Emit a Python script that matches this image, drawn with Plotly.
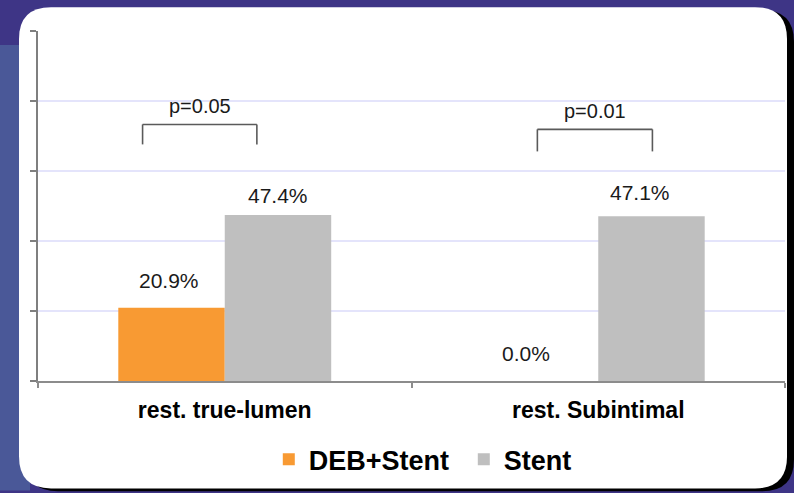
import plotly.graph_objects as go

# ---- data ----
categories = ["rest. true-lumen", "rest. Subintimal"]
series_names = ["DEB+Stent", "Stent"]
deb_stent = [20.9, 0.0]
stent = [47.4, 47.1]
p_values = ["p=0.05", "p=0.01"]

# ---- styling ----
ORANGE = "#f89a33"
GREY = "#bfbfbf"
FONT = "Liberation Sans, Arial, sans-serif"
W, H = 794, 493
ML, MR, MT, MB = 38, 9, 31, 110
PW, PH = W - ML - MR, H - MT - MB
BARGAP = 0.43
# per-label nudges (px) for the value labels: [DEB+Stent, Stent] per category
LABEL_DX = [[-3, 0], [-19, -11]]
LABEL_DY = [[14, 6], [14, 10]]


def X(px):
    """figure pixel x -> paper x"""
    return (px - ML) / PW


def Y(py):
    """figure pixel y -> paper y"""
    return (H - MB - py) / PH


def rounded_rect(x0, y0, x1, y1, r):
    pts = [
        f"M {X(x0 + r)},{Y(y0)}",
        f"L {X(x1 - r)},{Y(y0)}",
        f"Q {X(x1)},{Y(y0)} {X(x1)},{Y(y0 + r)}",
        f"L {X(x1)},{Y(y1 - r)}",
        f"Q {X(x1)},{Y(y1)} {X(x1 - r)},{Y(y1)}",
        f"L {X(x0 + r)},{Y(y1)}",
        f"Q {X(x0)},{Y(y1)} {X(x0)},{Y(y1 - r)}",
        f"L {X(x0)},{Y(y0 + r)}",
        f"Q {X(x0)},{Y(y0)} {X(x0 + r)},{Y(y0)}",
        "Z",
    ]
    return " ".join(pts)


fig = go.Figure()
fig.add_bar(name=series_names[0], x=categories, y=deb_stent,
            marker=dict(color=ORANGE, line=dict(width=0)))
fig.add_bar(name=series_names[1], x=categories, y=stent,
            marker=dict(color=GREY, line=dict(width=0)))

shapes = []
# slide background tone on the left edge
shapes.append(dict(type="rect", xref="paper", yref="paper",
                   x0=X(0), x1=X(30), y0=Y(493), y1=Y(45),
                   fillcolor="#4a5898", line=dict(width=0), layer="below"))
# panel drop shadow and white panel
shapes.append(dict(type="path", xref="paper", yref="paper",
                   path=rounded_rect(26, 10, 794, 494, 32),
                   fillcolor="black", line=dict(width=0), layer="below"))
shapes.append(dict(type="path", xref="paper", yref="paper",
                   path=rounded_rect(19, 7, 787, 491, 32),
                   fillcolor="white", line=dict(width=0), layer="below"))

# significance brackets (category units, value units)
brackets = [
    dict(x0=-0.22, x1=0.086, top=73.3, bottom=67.6),
    dict(x0=0.837, x1=1.145, top=71.9, bottom=65.6),
]
annotations = []
for b, label in zip(brackets, p_values):
    line = dict(color="#5a5a5a", width=1.6)
    shapes.append(dict(type="line", xref="x", yref="y", x0=b["x0"], x1=b["x1"],
                       y0=b["top"], y1=b["top"], line=line))
    shapes.append(dict(type="line", xref="x", yref="y", x0=b["x0"], x1=b["x0"],
                       y0=b["top"], y1=b["bottom"], line=line))
    shapes.append(dict(type="line", xref="x", yref="y", x0=b["x1"], x1=b["x1"],
                       y0=b["top"], y1=b["bottom"], line=line))
    annotations.append(dict(x=(b["x0"] + b["x1"]) / 2, y=b["top"], xref="x", yref="y",
                            text=label, showarrow=False, yanchor="bottom", yshift=5,
                            font=dict(family=FONT, size=20, color="#1a1a1a")))

# value labels above each bar
half = (1 - BARGAP) / 4
for i in range(len(categories)):
    for j, (offset, vals) in enumerate(((-half, deb_stent), (half, stent))):
        annotations.append(dict(x=i + offset, y=vals[i], xref="x", yref="y",
                                text=f"{vals[i]:.1f}%", showarrow=False,
                                yanchor="bottom", xshift=LABEL_DX[i][j],
                                yshift=LABEL_DY[i][j],
                                font=dict(family=FONT, size=21, color="#1a1a1a")))

fig.update_layout(
    width=W, height=H,
    margin=dict(l=ML, r=MR, t=MT, b=MB, pad=0),
    paper_bgcolor="#3e3586",
    plot_bgcolor="rgba(0,0,0,0)",
    barmode="group", bargap=BARGAP, bargroupgap=0,
    font=dict(family=FONT, color="black"),
    showlegend=True,
    legend=dict(orientation="h", x=0.57, xanchor="center", y=-0.225, yanchor="middle",
                font=dict(family=FONT, size=27, color="black", weight="bold"),
                entrywidth=150, entrywidthmode="pixels",
                bgcolor="rgba(0,0,0,0)", itemclick=False),
    shapes=shapes,
    annotations=annotations,
)
fig.update_xaxes(type="category", showline=True, linecolor="#8c8c8c", linewidth=2,
                 ticks="outside", tickson="boundaries", ticklen=5, tickwidth=2,
                 tickcolor="#8c8c8c", showgrid=False, ticklabelstandoff=7,
                 tickfont=dict(family=FONT, size=23, color="black", weight="bold"))
fig.update_yaxes(range=[0, 100], dtick=20, showticklabels=False,
                 showline=True, linecolor="#7f7f7f", linewidth=2,
                 ticks="outside", ticklen=6, tickwidth=2, tickcolor="#7f7f7f",
                 showgrid=True, gridcolor="#e4e4fb", gridwidth=2, zeroline=False)

fig.write_html("out.html")
